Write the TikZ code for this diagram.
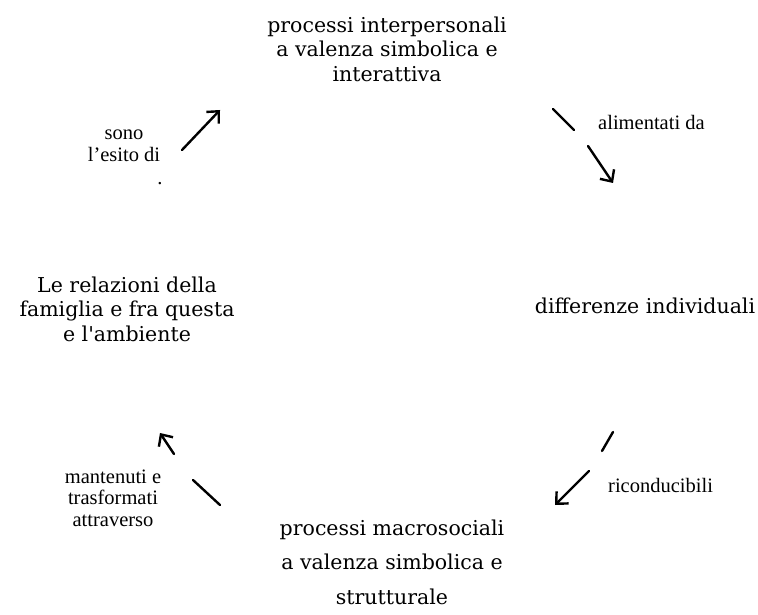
\documentclass[tikz,border=0pt]{standalone}
\usepackage{fontspec}
\newfontfamily\boxfont{DejaVu Serif}
\newfontfamily\labelfont{Liberation Serif}
\usetikzlibrary{arrows.meta}
\begin{document}
\begin{tikzpicture}[x=1pt,y=-1pt,
  main/.style={align=center,inner sep=0pt,font=\boxfont\fontsize{20.5}{24.5}\selectfont},
  lab/.style={align=center,inner sep=0pt,font=\labelfont\fontsize{20.5}{21.5}\selectfont},
  hand/.style={line width=2.4pt,line cap=round},
  tip/.style={hand,-{Straight Barb[length=9pt,width=17pt]}}]
\useasboundingbox (0,0) rectangle (758,615);

\node[main] (inter) at (387,49) {processi interpersonali\\a valenza simbolica e\\interattiva};
\node[main] (rel) at (127,309) {Le relazioni della\\famiglia e fra questa\\e l'ambiente};
\node[main] (diff) at (645,306) {differenze individuali};
\node[main,font=\boxfont\fontsize{20.5}{34.5}\selectfont] (macro) at (392,562) {processi macrosociali\\a valenza simbolica e\\strutturale};

\node[lab] (sono) at (124,146) {sono\\l’esito di};
\node[lab] (dot) at (160,184) {.};
\node[lab,anchor=west] (alim) at (598,122) {alimentati da};
\node[lab,anchor=west] (ric) at (608,485) {riconducibili};
\node[lab] (mant) at (113,498) {mantenuti e\\trasformati\\attraverso};

\foreach \n/\x/\y in {sono1/182/150, sono2/220/110, alim1/553/109, alim2/574/130, alim3/588/146, alim4/613/183,
  ric1/613/432, ric2/602/451, ric3/589/471, ric4/555/505, mant1/220/505, mant2/193/480, mant3/174/454, mant4/160/433}
  \coordinate (\n) at (\x,\y);
\foreach \s/\t in {alim1/alim2, ric1/ric2, mant1/mant2}
  \draw[hand] (\s) -- (\t);
\foreach \s/\t in {sono1/sono2, alim3/alim4, ric3/ric4, mant3/mant4}
  \draw[tip] (\s) -- (\t);

\end{tikzpicture}
\end{document}
